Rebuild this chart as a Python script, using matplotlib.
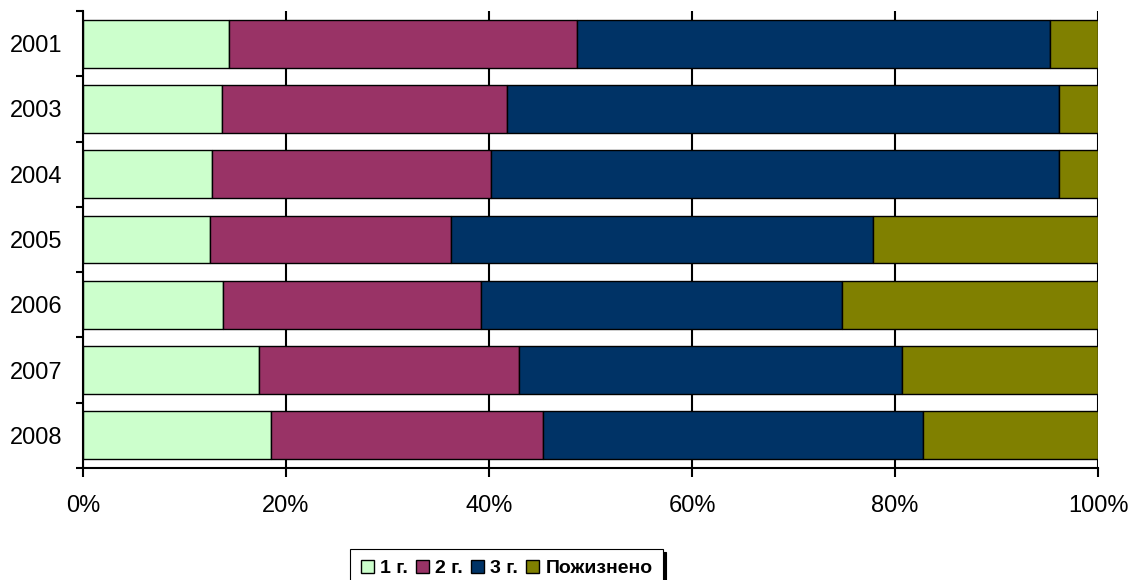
import matplotlib
matplotlib.use("Agg")
import matplotlib.pyplot as plt
import numpy as np

years = ["2001", "2003", "2004", "2005", "2006", "2007", "2008"]
series_names = ["1 г.", "2 г.", "3 г.", "Пожизнено"]
s1 = [14.4, 13.7, 12.7, 12.5, 13.8, 17.3, 18.5]
s2 = [34.3, 28.1, 27.5, 23.8, 25.4, 25.7, 26.8]
s3 = [46.6, 54.4, 56.0, 41.5, 35.6, 37.7, 37.5]
s4 = [4.7, 3.8, 3.8, 22.2, 25.2, 19.3, 17.2]
colors = ["#CCFFCC", "#993366", "#003366", "#808000"]
xticks = [0, 20, 40, 60, 80, 100]
xticklabels = ["0%", "20%", "40%", "60%", "80%", "100%"]

plt.rcParams['font.family'] = ['Liberation Sans', 'DejaVu Sans']

W, H = 1131, 580
fig = plt.figure(figsize=(W / 100, H / 100), dpi=100)
ax = fig.add_axes([83 / W, 1 - 468 / H, (1098 - 83) / W, (468 - 11) / H])

data = np.array([s1, s2, s3, s4])
totals = data.sum(axis=0)
pct = data / totals * 100
y = np.arange(len(years))
left = np.zeros(len(years))
handles = []
for i, name in enumerate(series_names):
    b = ax.barh(y, pct[i], left=left, height=0.735, color=colors[i],
                edgecolor="black", linewidth=1.0, label=name, zorder=3)
    handles.append(b)
    left += pct[i]

ax.set_xlim(0, 100)
ax.set_ylim(len(years) - 0.5, -0.5)
ax.set_xticks(xticks)
ax.set_xticklabels(xticklabels, fontsize=17)
ax.set_yticks(y)
ax.set_yticklabels(years, fontsize=17)
ax.set_yticks(np.arange(len(years) + 1) - 0.5, minor=True)
ax.tick_params(axis="y", which="major", length=0, pad=14.5)
ax.tick_params(axis="y", which="minor", length=5, width=1.5, direction="out")
ax.tick_params(axis="x", which="major", length=6.5, width=1.5, direction="out", pad=13)

ax.grid(axis="x", color="black", linewidth=1.5, zorder=0)
ax.set_axisbelow(True)
for s in ["top", "right"]:
    ax.spines[s].set_visible(False)
for s in ["left", "bottom"]:
    ax.spines[s].set_linewidth(1.5)
    ax.spines[s].set_zorder(4)

leg = fig.legend(handles=handles, labels=series_names, loc="upper left",
                 bbox_to_anchor=(350 / W, 1 - 549 / H), ncol=4,
                 prop={"weight": "bold", "size": 14},
                 frameon=True, fancybox=False, edgecolor="black",
                 handlelength=0.7, handleheight=0.7, handletextpad=0.3,
                 columnspacing=0.4, borderpad=0.55, borderaxespad=0,
                 shadow={"color": "black", "alpha": 1})
leg.get_frame().set_linewidth(0.8)

fig.savefig("out.png", dpi=100)
